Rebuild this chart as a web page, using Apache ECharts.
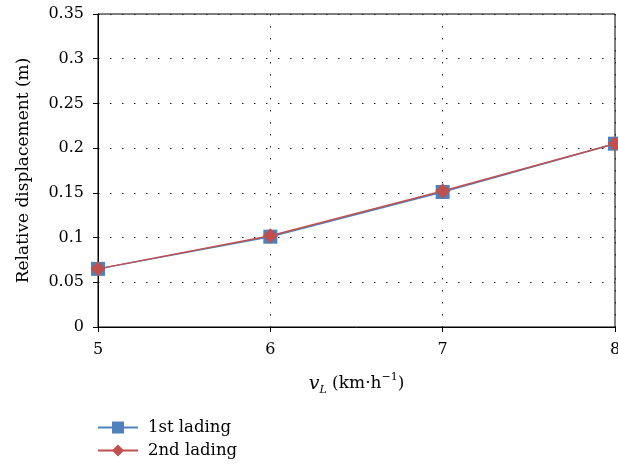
<!DOCTYPE html>
<html>
<head>
<meta charset="utf-8">
<script src="https://cdn.jsdelivr.net/npm/echarts@6/dist/echarts.min.js"></script>
<style>html,body{margin:0;padding:0;background:#fff;}#c{width:618px;height:464px;}</style>
</head>
<body>
<div id="c"></div>
<script>
var speeds = [5, 6, 7, 8];
var lading1 = [0.065, 0.101, 0.151, 0.205];
var lading2 = [0.065, 0.102, 0.152, 0.205];
var seriesNames = ['1st lading', '2nd lading'];

var FONT = '"DejaVu Serif", "Liberation Serif", serif';
var chart = echarts.init(document.getElementById('c'));
function pairs(xs, ys) { return xs.map(function (x, i) { return [x, ys[i]]; }); }
chart.setOption({
  animation: false,
  backgroundColor: '#fff',
  grid: { left: 98, right: 3, top: 14, bottom: 137, show: true, borderColor: '#000', borderWidth: 1, backgroundColor: 'transparent', containLabel: false, outerBoundsMode: 'none' },
  legend: {
    orient: 'vertical', left: 92, top: 414, itemGap: 6, itemWidth: 40, itemHeight: 15,
    textStyle: { fontFamily: FONT, fontSize: 16.5, color: '#000', padding: [0, 0, 0, 5] },
    data: seriesNames
  },
  xAxis: {
    type: 'value', min: 5, max: 8, interval: 1,
    axisLine: { show: true, lineStyle: { color: '#000', width: 1 } },
    axisTick: { show: true, length: 5, lineStyle: { color: '#000' } },
    axisLabel: { fontFamily: FONT, fontSize: 16, color: '#000', margin: 15 },
    splitLine: { show: true, lineStyle: { color: '#222', type: [1.5, 10.5], width: 1 } },
    name: '{i|v}{sub|L}{t| (km·h}{sup|−1}{t|)}',
    nameLocation: 'middle', nameGap: 45,
    nameTextStyle: {
      fontFamily: FONT, fontSize: 17, color: '#000',
      rich: {
        i: { fontFamily: FONT, fontSize: 19, fontStyle: 'italic', color: '#000', lineHeight: 24, verticalAlign: 'middle' },
        sub: { fontFamily: FONT, fontSize: 11, fontStyle: 'italic', color: '#000', lineHeight: 24, verticalAlign: 'bottom' },
        t: { fontFamily: FONT, fontSize: 17, color: '#000', lineHeight: 24, verticalAlign: 'middle' },
        sup: { fontFamily: FONT, fontSize: 11, color: '#000', lineHeight: 24, verticalAlign: 'top' }
      }
    }
  },
  yAxis: {
    type: 'value', min: 0, max: 0.35, interval: 0.05,
    axisLine: { show: true, lineStyle: { color: '#000', width: 1 } },
    axisTick: { show: true, length: 5, lineStyle: { color: '#000' } },
    axisLabel: { fontFamily: FONT, fontSize: 16, color: '#000', margin: 14 },
    splitLine: { show: true, lineStyle: { color: '#222', type: [1.5, 10.5], width: 1 } },
    name: 'Relative displacement (m)',
    nameLocation: 'middle', nameGap: 66,
    nameTextStyle: { fontFamily: FONT, fontSize: 17, color: '#000' }
  },
  series: [
    {
      name: seriesNames[0], type: 'line', data: pairs(speeds, lading1),
      symbol: 'rect', symbolSize: 14,
      itemStyle: { color: '#4F81BD' }, lineStyle: { color: '#4F81BD', width: 1.5 }
    },
    {
      name: seriesNames[1], type: 'line', data: pairs(speeds, lading2),
      symbol: 'diamond', symbolSize: 15,
      itemStyle: { color: '#C0504D' }, lineStyle: { color: '#C0504D', width: 1.5 }
    }
  ]
});
</script>
</body>
</html>
